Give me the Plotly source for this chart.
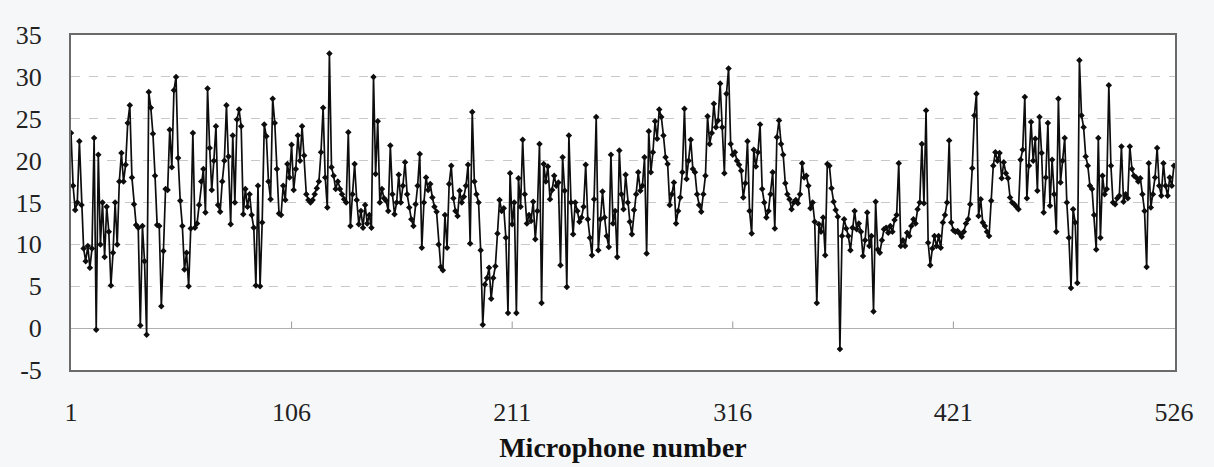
import plotly.graph_objects as go

values = [
    23.3, 17.0, 14.1, 15.0, 22.3, 14.7, 9.5, 8.0, 9.8, 7.2,
    9.5, 22.7, -0.2, 20.7, 10.0, 15.0, 8.5, 14.5, 11.5, 5.1,
    9.0, 15.0, 10.0, 17.5, 20.9, 17.5, 19.5, 24.5, 26.6, 18.0,
    14.8, 12.3, 12.0, 0.3, 12.2, 8.0, -0.8, 28.2, 26.3, 23.2,
    18.2, 12.3, 12.2, 2.6, 9.2, 16.6, 16.5, 23.7, 19.2, 28.4,
    30.0, 20.3, 15.2, 12.2, 7.0, 9.0, 5.0, 11.9, 23.3, 12.0,
    12.5, 14.7, 17.5, 19.0, 13.8, 28.6, 21.5, 16.5, 20.0, 24.1,
    14.7, 13.9, 17.5, 20.0, 26.6, 20.5, 12.4, 23.0, 15.0, 24.9,
    26.1, 24.1, 13.6, 16.6, 14.5, 16.0, 13.5, 12.0, 5.1, 17.0,
    5.0, 12.6, 24.3, 22.9, 17.5, 15.4, 27.4, 24.5, 19.0, 13.7,
    13.5, 17.0, 15.3, 19.6, 18.0, 21.9, 16.5, 19.0, 23.0, 20.0,
    24.1, 20.6, 16.0, 15.3, 15.0, 15.3, 16.0, 16.7, 17.5, 21.0,
    26.3, 18.0, 14.4, 32.8, 19.2, 18.2, 16.6, 17.5, 16.6, 16.0,
    15.4, 15.0, 23.4, 12.2, 16.0, 19.6, 15.3, 12.4, 14.0, 12.0,
    14.7, 12.5, 13.5, 12.0, 30.0, 18.4, 24.7, 15.0, 16.6, 15.5,
    15.2, 14.0, 21.8, 16.0, 13.6, 15.0, 18.3, 15.0, 17.0, 19.8,
    16.0, 14.4, 13.0, 12.2, 14.8, 17.0, 20.8, 9.6, 15.0, 18.0,
    16.5, 17.2, 15.6, 14.5, 13.9, 10.0, 7.3, 6.9, 13.5, 9.6,
    17.2, 19.4, 15.5, 14.0, 13.4, 16.4, 15.0, 15.7, 17.0, 19.5,
    10.1, 25.8, 17.5, 16.0, 15.0, 9.3, 0.4, 5.2, 6.0, 7.2,
    3.5, 6.0, 7.4, 11.3, 15.3, 14.0, 14.3, 10.8, 1.8, 18.5,
    12.4, 15.0, 1.8, 17.9, 14.5, 22.5, 16.0, 12.5, 13.5, 12.8,
    15.1, 10.6, 14.0, 22.0, 3.0, 19.6, 17.5, 19.3, 15.4, 16.5,
    18.2, 17.0, 17.4, 7.5, 20.4, 16.4, 4.9, 23.0, 15.0, 11.2,
    15.0, 14.0, 12.7, 13.2, 14.5, 19.5, 13.0, 10.8, 8.7, 15.4,
    25.2, 9.3, 13.0, 16.3, 13.2, 11.0, 9.7, 20.7, 12.5, 14.0,
    8.5, 21.2, 16.0, 14.2, 18.3, 15.0, 12.7, 11.2, 14.1, 16.0,
    18.6, 16.4, 17.0, 20.4, 8.9, 23.5, 18.6, 21.0, 24.7, 22.6,
    26.1, 25.2, 23.0, 20.4, 19.6, 14.7, 16.0, 17.4, 12.5, 14.0,
    15.6, 18.6, 26.2, 17.8, 20.0, 22.5, 19.0, 18.6, 16.0, 14.7,
    13.9, 16.0, 18.2, 25.3, 22.0, 23.3, 26.8, 24.0, 24.8, 29.2,
    24.0, 18.5, 28.0, 31.0, 22.0, 20.7, 21.0, 20.0, 19.5, 18.8,
    15.6, 17.3, 22.3, 14.0, 11.3, 21.3, 19.3, 21.0, 24.3, 16.6,
    15.0, 13.2, 14.0, 16.0, 18.6, 11.9, 22.8, 24.8, 22.0, 20.7,
    17.3, 16.0, 15.4, 14.2, 15.0, 15.3, 14.9, 16.0, 19.7, 18.0,
    18.2, 17.0, 14.3, 15.0, 12.7, 3.0, 12.4, 11.5, 13.2, 8.7,
    19.6, 19.4, 16.7, 15.1, 14.1, 13.3, -2.5, 11.0, 13.0, 11.9,
    11.0, 9.3, 12.0, 14.0, 11.8, 12.5, 11.5, 8.6, 10.5, 13.8,
    9.8, 11.0, 2.0, 15.1, 9.4, 9.0, 10.5, 11.8, 12.0, 11.4,
    12.2, 11.5, 12.9, 13.5, 19.7, 9.8, 10.5, 9.8, 11.4, 11.0,
    12.2, 13.0, 12.5, 14.2, 15.0, 22.0, 14.9, 26.0, 10.2, 7.5,
    9.5, 11.0, 9.8, 11.0, 9.6, 12.6, 13.5, 15.0, 22.4, 12.6,
    11.7, 11.5, 11.6, 11.3, 10.9, 11.5, 12.5, 13.0, 14.8, 19.1,
    25.4, 28.0, 13.4, 15.4, 12.6, 12.2, 11.5, 11.0, 15.2, 19.4,
    21.0, 20.0, 20.9, 17.9, 19.8, 18.5, 17.9, 15.6, 15.0, 14.8,
    14.5, 14.2, 20.1, 21.3, 27.6, 15.5, 19.4, 24.6, 20.0, 22.6,
    16.4, 25.2, 20.9, 13.8, 18.0, 24.5, 14.6, 20.1, 16.0, 11.5,
    27.4, 17.4, 20.0, 22.7, 15.0, 10.8, 4.8, 14.2, 12.6, 5.4,
    32.0, 25.4, 24.0, 20.5, 19.4, 17.0, 16.6, 13.5, 9.4, 22.7,
    10.8, 18.2, 16.0, 16.6, 29.0, 19.4, 15.0, 14.8, 15.5, 15.8,
    21.7, 15.1, 16.0, 15.5, 21.7, 19.0, 18.2, 18.0, 17.5, 17.9,
    16.0, 14.0, 7.3, 19.7, 14.4, 16.0, 18.0, 21.5, 17.0, 15.8,
    19.7, 17.0, 15.8, 18.0, 17.0, 19.4,
]
mic_numbers = list(range(1, len(values) + 1))
x_ticks = [1, 106, 211, 316, 421, 526]
y_ticks = [-5, 0, 5, 10, 15, 20, 25, 30, 35]
y_tick_labels = ["-5", "0", "5", "10", "15", "20", "25", "30", "35"]
x_title = "Microphone number"

serif = "Liberation Serif, Times New Roman, serif"

fig = go.Figure()
fig.add_trace(go.Scatter(
    x=mic_numbers, y=values, mode="lines+markers",
    line=dict(color="#0d0d0d", width=1.7),
    marker=dict(color="#0d0d0d", size=5, symbol="diamond"),
    showlegend=False, hoverinfo="x+y",
))

for t in x_ticks[1:-1]:
    fig.add_shape(type="line", xref="x", yref="y", x0=t, x1=t, y0=0, y1=0.8,
                  line=dict(color="#999999", width=1))

fig.update_layout(
    width=1214, height=467,
    margin=dict(l=71, r=39, t=35, b=97),
    paper_bgcolor="#f6f7f9", plot_bgcolor="#ffffff",
    font=dict(family=serif, size=26, color="#222222"),
)
fig.update_xaxes(
    range=[1, 526.5], tickvals=x_ticks, ticktext=[str(t) for t in x_ticks],
    showgrid=False, zeroline=False, automargin=False,
    showline=True, mirror=True, linecolor="#6a6a6a", linewidth=2,
    ticks="", ticklabelstandoff=18,
    tickfont=dict(family=serif, size=26, color="#222222"),
    title=dict(text="<b>" + x_title + "</b>", standoff=11,
               font=dict(family=serif, size=28, color="#111111")),
)
fig.update_yaxes(
    range=[-5, 35], tickvals=y_ticks, ticktext=y_tick_labels,
    showgrid=True, gridcolor="#c8c8c8", griddash="dash", gridwidth=1,
    zeroline=True, zerolinecolor="#b0b0b0", zerolinewidth=1,
    showline=True, mirror=True, linecolor="#6a6a6a", linewidth=2,
    ticks="", ticklabelstandoff=22, automargin=False,
    tickfont=dict(family=serif, size=26, color="#222222"),
)

fig.write_html("out.html")
